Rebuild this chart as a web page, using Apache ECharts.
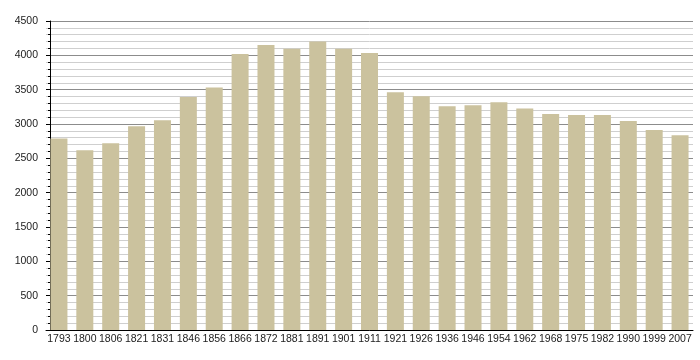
<!DOCTYPE html>
<html>
<head>
<meta charset="utf-8">
<script src="https://cdn.jsdelivr.net/npm/echarts@6/dist/echarts.min.js"></script>
<style>html,body{margin:0;padding:0;background:#fff}#c{width:700px;height:360px}</style>
</head>
<body>
<div id="c"></div>
<script>
var years = ['1793','1800','1806','1821','1831','1846','1856','1866','1872','1881','1891','1901','1911','1921','1926','1936','1946','1954','1962','1968','1975','1982','1990','1999','2007'];
var population = [2790,2617,2719,2966,3053,3392,3533,4018,4150,4096,4203,4096,4033,3461,3405,3257,3272,3315,3227,3145,3130,3130,3043,2912,2835];
var yTicks = [0,500,1000,1500,2000,2500,3000,3500,4000,4500];

var chart = echarts.init(document.getElementById('c'));
chart.setOption({
  animation: false,
  backgroundColor: '#ffffff',
  grid: {left: 46, right: 7, top: 21, bottom: 30},
  xAxis: {
    type: 'category',
    data: years,
    axisLine: {show: true, lineStyle: {color: '#000', width: 1}},
    axisTick: {show: false},
    axisLabel: {color: '#222', fontSize: 10.5, fontFamily: 'Liberation Sans, Arial, sans-serif', margin: 4, interval: 0}
  },
  yAxis: {
    type: 'value',
    min: yTicks[0],
    max: yTicks[yTicks.length - 1],
    interval: 500,
    offset: -4,
    axisLine: {show: true, lineStyle: {color: '#000', width: 1}},
    axisTick: {show: true, length: 4, lineStyle: {color: '#000'}},
    minorTick: {show: true, splitNumber: 5, length: 2, lineStyle: {color: '#000'}},
    axisLabel: {color: '#222', fontSize: 10.5, fontFamily: 'Liberation Sans, Arial, sans-serif', margin: 12,
      formatter: function (v) { return String(v); }},
    splitLine: {show: true, lineStyle: {color: '#8c8c8c', width: 1}},
    minorSplitLine: {show: true, lineStyle: {color: '#cfcfcf', width: 1}}
  },
  series: [{
    type: 'bar',
    data: population,
    barWidth: 17,
    itemStyle: {color: '#cbc29e'}
  }]
});
</script>
</body>
</html>
